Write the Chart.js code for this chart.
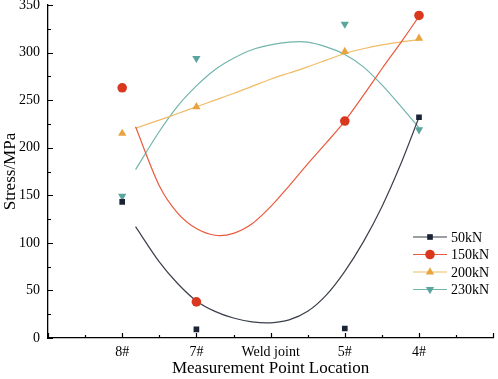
<!DOCTYPE html>
<html>
<head>
<meta charset="utf-8">
<script src="https://cdn.jsdelivr.net/npm/chart.js@4.4.0/dist/chart.umd.min.js"></script>
<style>
  body { margin: 0; background: #fff; }
  #chart { display: block; }
</style>
</head>
<body>
<canvas id="chart" width="498" height="379"></canvas>
<script>
// categories on the x axis (axis runs 0..6, categories at 1..5)
const categories = ["8#", "7#", "Weld joint", "5#", "4#"];
const pointCats = ["8#", "7#", "5#", "4#"];

// measured points
const s50 = [143, 9, 10, 232];
const s150 = [263, 38, 228, 339];
const s200 = [215, 243, 301, 315];
const s230 = [149, 294, 330, 219];

// fitted curves
const curveX = [1.18, 1.5, 1.75, 2, 2.25, 2.5, 2.75, 3, 3.25, 3.5, 3.75, 4, 4.25, 4.5, 4.75, 5];
const fit50 = [117, 80, 57, 39, 28, 21, 17, 16, 19, 28, 45, 70, 101, 138, 182, 232];
const fit150 = [222, 160, 131, 115, 108, 110, 120, 138, 160, 183, 205, 228, 255, 283, 310, 338];
const fit200 = [220.5, 229, 236, 243, 250, 257, 264.5, 272, 278.5, 285, 292, 299, 304, 308, 311, 313.5];
const fit230 = [177, 217, 244, 265, 282, 294, 303, 308, 311, 311, 306, 298, 285, 266, 244, 221];

const yTicks = [0, 50, 100, 150, 200, 250, 300, 350];

const serif = "'Liberation Serif', 'Times New Roman', serif";

const pts = (vals) => vals.map((v, i) => ({ x: categories.indexOf(pointCats[i]) + 1, y: v }));
const crv = (vals) => vals.map((v, i) => ({ x: curveX[i], y: v }));

const series = [
  { label: "50kN", pts: s50, fit: fit50, color: "#1b2336", line: "#3a3f4a", style: "rect", rot: 0 },
  { label: "150kN", pts: s150, fit: fit150, color: "#d9381e", line: "#ea5a3c", style: "circle", rot: 0 },
  { label: "200kN", pts: s200, fit: fit200, color: "#e8a53f", line: "#f0bb66", style: "triangle", rot: 0 },
  { label: "230kN", pts: s230, fit: fit230, color: "#5aa69e", line: "#72b5ad", style: "triangle", rot: 180 }
];

const markerSize = (s) => (s.style === "rect" ? 4 : 4.8);

const datasets = [];
series.forEach((s) => {
  datasets.push({
    label: s.label + " fit",
    data: crv(s.fit),
    showLine: true,
    borderColor: s.line,
    borderWidth: 1.2,
    pointRadius: 0,
    tension: 0.3,
    order: 2
  });
});
series.forEach((s) => {
  datasets.push({
    label: s.label,
    data: pts(s.pts),
    showLine: false,
    pointStyle: s.style,
    rotation: s.rot,
    pointRadius: markerSize(s),
    backgroundColor: s.color,
    borderColor: s.color,
    borderWidth: 0,
    order: 1
  });
});

// inward tick marks, like the original figure
const tickMarks = {
  id: "tickMarks",
  afterDraw(chart) {
    const c = chart.ctx;
    const xs = chart.scales.x;
    const ys = chart.scales.y;
    const a = chart.chartArea;
    c.save();
    c.strokeStyle = "#000";
    c.lineWidth = 1.2;
    c.beginPath();
    for (let v = 0; v <= 6; v += 0.5) {
      const px = Math.round(xs.getPixelForValue(v)) + 0.5;
      const len = Number.isInteger(v) ? 5 : 3;
      c.moveTo(px, a.bottom);
      c.lineTo(px, a.bottom - len);
    }
    for (let v = 0; v <= 350; v += 25) {
      const py = Math.round(ys.getPixelForValue(v)) + 0.5;
      const len = v % 50 === 0 ? 5 : 3;
      c.moveTo(a.left, py);
      c.lineTo(a.left + len, py);
    }
    c.stroke();
    c.restore();
  }
};

// legend with line + marker
const lineLegend = {
  id: "lineLegend",
  afterDraw(chart) {
    const c = chart.ctx;
    const x0 = 413, x1 = 447, tx = 451;
    const rows = [237, 254.5, 272, 289.5];
    c.save();
    series.forEach((s, i) => {
      const y = rows[i];
      c.strokeStyle = s.line;
      c.lineWidth = 1.2;
      c.beginPath();
      c.moveTo(x0, y);
      c.lineTo(x1, y);
      c.stroke();
      c.fillStyle = s.color;
      c.strokeStyle = s.color;
      Chart.helpers.drawPoint(c, {
        pointStyle: s.style,
        rotation: s.rot,
        radius: markerSize(s),
        borderWidth: 0
      }, (x0 + x1) / 2, y);
      c.fillStyle = "#000";
      c.font = "14px " + serif;
      c.textBaseline = "middle";
      c.textAlign = "left";
      c.fillText(s.label, tx, y + 1);
    });
    c.restore();
  }
};

new Chart(document.getElementById("chart"), {
  type: "scatter",
  data: { datasets },
  options: {
    responsive: false,
    animation: false,
    devicePixelRatio: 1,
    layout: { padding: { top: 5, right: 1, left: 0, bottom: 0 } },
    plugins: { legend: { display: false }, tooltip: { enabled: false } },
    scales: {
      x: {
        type: "linear",
        min: 0,
        max: 6,
        afterFit: (s) => { s.height = 41; s.paddingLeft = 0; s.paddingRight = 0; },
        afterBuildTicks: (s) => { s.ticks = [0, 1, 2, 3, 4, 5, 6].map((v) => ({ value: v })); },
        grid: { display: false, drawTicks: false },
        border: { display: true, color: "#000", width: 1.3 },
        ticks: {
          padding: 6,
          color: "#000",
          maxRotation: 0,
          font: { family: serif, size: 14 },
          callback: (v) => categories[v - 1] || ""
        },
        title: {
          display: true,
          text: "Measurement Point Location",
          color: "#000",
          font: { family: serif, size: 17 },
          padding: { top: 0, bottom: 0 }
        }
      },
      y: {
        min: 0,
        max: 350,
        afterFit: (s) => { s.width = 48; s.paddingTop = 0; s.paddingBottom = 0; },
        afterBuildTicks: (s) => { s.ticks = yTicks.map((v) => ({ value: v })); },
        grid: { display: false, drawTicks: false },
        border: { display: true, color: "#000", width: 1.3 },
        ticks: {
          padding: 8,
          color: "#000",
          font: { family: serif, size: 14 }
        },
        title: {
          display: true,
          text: "Stress/MPa",
          color: "#000",
          font: { family: serif, size: 17 },
          padding: { top: 0, bottom: 0 }
        }
      }
    }
  },
  plugins: [tickMarks, lineLegend]
});
</script>
</body>
</html>
